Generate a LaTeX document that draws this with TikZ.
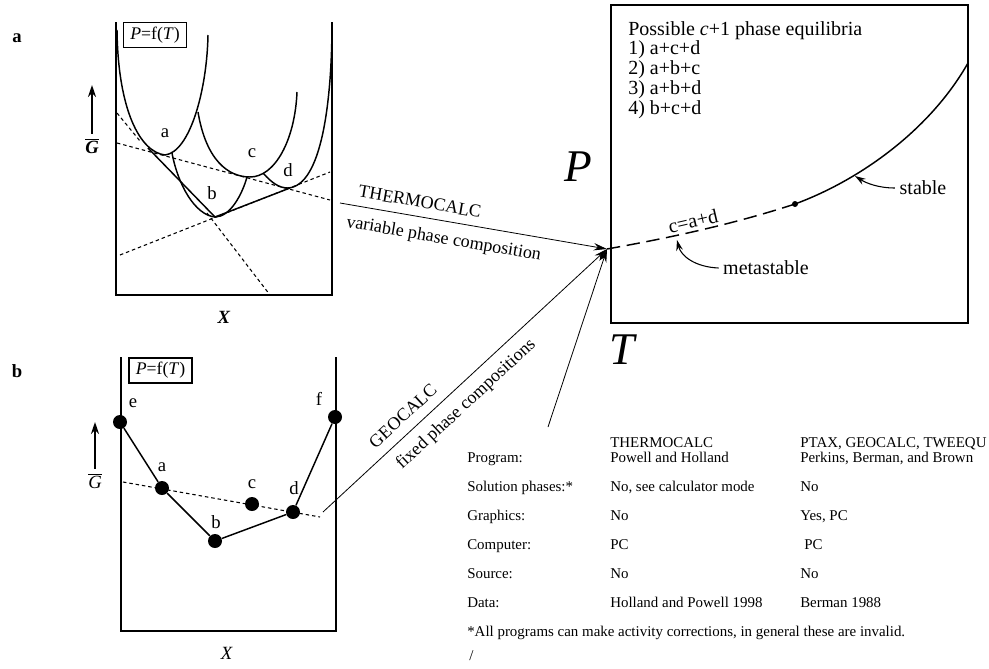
\documentclass[tikz,border=0pt]{standalone}
\usepackage{fontspec}
\setmainfont{Liberation Serif}
\usetikzlibrary{arrows.meta,positioning}

\begin{document}
\begin{tikzpicture}[x=0.75pt, y=-0.75pt, >={Stealth},
  every node/.style={font=\fontsize{14}{16}\selectfont},
  wall/.style={line width=1.4pt},
  curve/.style={line width=1.1pt},
  guide/.style={line width=0.8pt, dash pattern=on 2.6pt off 2.2pt},
  fbox/.style={draw, line width=1.2pt, minimum width=47pt, minimum height=19pt, inner sep=0pt, font=\fontsize{13.3}{15}\selectfont},
  phase/.style={circle, fill, inner sep=0pt, minimum size=10.5pt},
  garrow/.style={line width=1.3pt, -{Stealth[length=9pt, width=6pt]}},
  feed/.style={line width=0.6pt, -{Stealth[length=10pt, width=5.5pt]}},
  pointer/.style={line width=0.8pt, -{Stealth[length=8pt, width=5pt]}},
  big/.style={font=\fontsize{34}{34}\selectfont\itshape},
  panel/.style={font=\fontsize{14}{16}\selectfont\bfseries},
  side/.style={font=\fontsize{13.5}{15}\selectfont, sloped},
  cell/.style={font=\fontsize{11.2}{13}\selectfont, anchor=base west, inner sep=0pt}]

  \useasboundingbox (0,0) rectangle (989,668);

  % (a) free energy curves
  \node[panel] (la) at (17,38) {a};
  \draw[wall] (116,22) -- (116,295) -- (332,295) -- (332,22);
  \node[fbox] (fa) at (155,35) {\textit{P}=f(\textit{T})};
  \draw[guide] (117,113) -- (140,141);
  \draw[guide] (207,213) -- (270,295);
  \draw[guide] (117,143) -- (330,200);
  \draw[guide] (120,255) -- (330,172);
  \draw[curve] (117,30) .. controls (118,110) and (140,152) .. (165,155) .. controls (190,152) and (207,90) .. (208,35);
  \draw[curve] (172,153) .. controls (178,185) and (195,215) .. (215,217) .. controls (230,217) and (242,195) .. (247,177);
  \draw[curve] (198,112) .. controls (206,160) and (228,177) .. (250,177) .. controls (275,177) and (295,140) .. (297,92);
  \draw[curve] (263,173) .. controls (272,183) and (279,188) .. (288,188) .. controls (322,186) and (332,100) .. (332,22);
  \draw[curve] (148,148) -- (215,217) -- (290,188);
  \node (na) at (165,133) {a};
  \node (nb) at (212,193) {b};
  \node (nc) at (252,153) {c};
  \node (nd) at (288,170) {d};
  \node (xa) at (224,317) {\textbf{\textit{X}}};
  \node (ga) at (92,146) {$\overline{\mbox{\bfseries\itshape G}}$};
  \coordinate (gatip) at (92,85);
  \draw[garrow] (ga.north) -- (gatip);

  % (b) fixed compositions
  \node[panel] (lb) at (17,371) {b};
  \draw[wall] (121,357) -- (121,631) -- (336,631) -- (336,357);
  \node[fbox] (fb) at (160.5,370.5) {\textit{P}=f(\textit{T})};
  \draw[guide] (123,482) -- (320,517);
  \node[phase] (pe) at (120,422) {};
  \node[phase] (pa) at (162,488) {};
  \node[phase] (pb) at (215,541) {};
  \node[phase] (pc) at (252,504) {};
  \node[phase] (pd) at (293,512) {};
  \node[phase] (pf) at (335,417) {};
  \draw[curve] (pe) -- (pa) -- (pb) -- (pd) -- (pf);
  \node (me) at (133,403) {e};
  \node (ma) at (162,467) {a};
  \node (mb) at (216,522) {b};
  \node (mc) at (252,484) {c};
  \node (md) at (294,488) {d};
  \node (mf) at (319,399) {f};
  \node (xb) at (227,653) {\textit{X}};
  \node (gb) at (95,481) {$\overline{\mbox{\itshape G}}$};
  \coordinate (gbtip) at (95,422);
  \draw[garrow] (gb.north) -- (gbtip);

  % P-T diagram
  \draw[line width=1.1pt] (611,5) rectangle (968,323);
  \node[big] (pl) at (578,167) {P};
  \node[big] (tl) at (622,350) {T};
  \node[anchor=north west, align=left, inner sep=0pt, font=\fontsize{15}{14.8}\selectfont] (poss) at (628,21)
    {Possible \textit{c}+1 phase equilibria\\1) a+c+d\\2) a+b+c\\3) a+b+d\\4) b+c+d};
  \coordinate (junc) at (607,249);
  \node[circle, fill, inner sep=0pt, minimum size=4.5pt] (kink) at (795,204) {};
  \coordinate (cend) at (968,63);
  \draw[line width=1.1pt, dash pattern=on 10pt off 5pt] (junc) .. controls (680,236) and (740,222) .. (kink.center);
  \draw[line width=1.1pt] (kink.center) .. controls (860,180) and (930,130) .. (cend);
  \node[rotate=13, font=\fontsize{15}{16}\selectfont] (rx) at (693,221) {c=a+d};
  \node[font=\fontsize{15}{16}\selectfont] (meta) at (766,268) {metastable};
  \coordinate (metatip) at (677,240);
  \draw[pointer] (meta.west) .. controls (695,267) and (681,256) .. (metatip);
  \node[font=\fontsize{15}{16}\selectfont] (stab) at (923,188) {stable};
  \coordinate (stabtip) at (855,176);
  \draw[pointer] (stab.west) .. controls (878,188) and (866,183) .. (stabtip);

  % programs
  \coordinate (tcstart) at (340,203);
  \coordinate (gcstart) at (323,512);
  \coordinate (tabstart) at (548,427);
  \draw[feed] (tcstart) -- node[side, pos=0.29, above=3pt] {THERMOCALC}
    node[side, pos=0.40, below=4pt] {variable phase composition} (junc);
  \draw[feed] (gcstart) -- node[side, pos=0.32, above=4pt] {GEOCALC}
    node[side, pos=0.46, below=4pt] {fixed phase compositions} (junc);
  \draw[feed] (tabstart) -- (junc);

  \node[cell] (h1) at (610,447) {THERMOCALC};
  \node[cell] (h2) at (800,447) {PTAX, GEOCALC, TWEEQU};
  \node[cell] (r0) at (467,462) {Program:};
  \node[cell] (a0) at (610,462) {Powell and Holland};
  \node[cell] (b0) at (800,462) {Perkins, Berman, and Brown};
  \foreach \rlab/\ca/\cb [count=\i] in {Solution phases:*/{No, see calculator mode}/No,
      Graphics:/No/{Yes, PC}, Computer:/PC/{\hspace{3pt}PC}, Source:/No/No,
      Data:/Holland and Powell 1998/Berman 1988} {
    \node[cell] (r\i) at (467,462+29*\i) {\rlab};
    \node[cell] (a\i) at (610,462+29*\i) {\ca};
    \node[cell] (b\i) at (800,462+29*\i) {\cb};
  }
  \node[cell] (foot) at (467,636) {*All programs can make activity corrections, in general these are invalid.};
  \node[cell] (sl) at (469,660) {/};
\end{tikzpicture}
\end{document}
